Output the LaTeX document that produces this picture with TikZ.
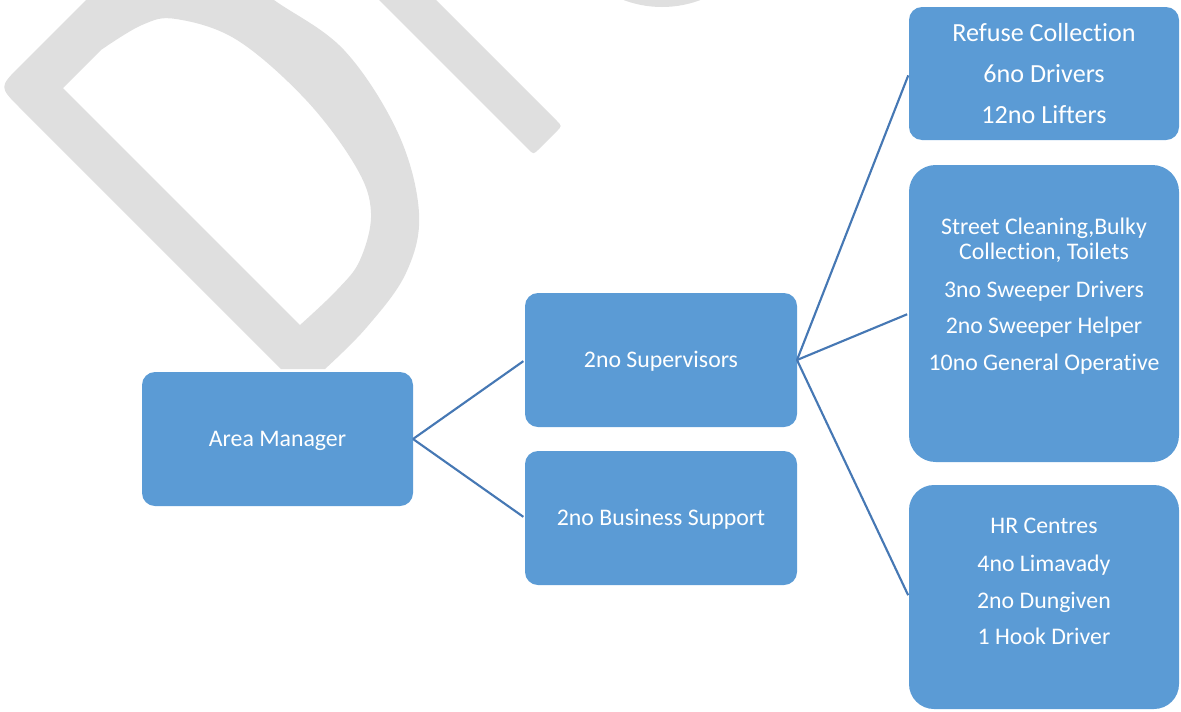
\documentclass[tikz,border=0pt]{standalone}
\usepackage{fontspec}
\setmainfont{Carlito}[Ligatures={NoCommon,NoContextual,NoRare}]
\definecolor{boxblue}{HTML}{5B9BD5}
\definecolor{linkblue}{HTML}{4678B4}
\definecolor{markgray}{HTML}{DFDFDF}
\newcommand{\boxfont}{\fontsize{17.85pt}{21pt}\selectfont}
\newcommand{\bigboxfont}{\fontsize{19.6pt}{23pt}\selectfont}
\begin{document}
\begin{tikzpicture}[x=0.75pt,y=-0.75pt,
  orgbox/.style={rectangle, rounded corners=9.75pt, fill=boxblue, inner sep=0pt,
    outer sep=0pt, minimum width=204pt, minimum height=100.5pt, text=white,
    font=\boxfont, text height=15pt, text depth=4.5pt},
  tallbox/.style={orgbox, minimum width=202.5pt},
  boxline/.style={text=white, font=\boxfont, anchor=base, inner sep=0pt},
  bigline/.style={boxline, font=\bigboxfont},
  link/.style={draw=linkblue, line width=1.6pt, shorten >=1.5pt}]
\useasboundingbox (0,0) rectangle (1181,711);

% faint lettering in the background
\begin{scope}
  \clip (0,0) rectangle (1181,711);
  \fill[markgray, even odd rule]
    (116,-30) -- (20,66) .. controls (-1,87) .. (20,108) -- (281,369) -- (325,369)
    -- plot[smooth, tension=0.6] coordinates {(325,369) (367,327) (406,273) (419,213) (398,133) (344,50) (274,0) (235,-30)}
    -- cycle
    (63,88) -- (300,325)
    -- plot[smooth, tension=0.6] coordinates {(300,325) (337,290) (360,260) (371,213) (356,167) (306,100) (237,40) (176,19) (142,25) (101,50)}
    -- cycle;
  \fill[markgray]
    (349,-30) -- (528,149) .. controls (533.5,154.5) .. (539,149)
    -- (556.5,131.5) .. controls (562,126) .. (556.5,120.5) -- (406,-30) -- cycle;
  \fill[markgray] (662,-102) circle[radius=81.75pt];
\end{scope}

% boxes
\node[orgbox, minimum width=203.25pt] (am) at (277.5,439) {Area Manager};
\node[orgbox] (sup) at (661,360) {2no Supervisors};
\node[orgbox] (bs) at (661,518) {2no Business Support};
\node[tallbox, minimum height=99.75pt] (refuse) at (1044,73.5) {};
\node[tallbox, minimum height=222.75pt, rounded corners=20pt] (street) at (1044,313.5) {};
\node[tallbox, minimum height=168pt, rounded corners=18.75pt] (hr) at (1044,597) {};

% box texts
\node[bigline] (rc1) at (1044,41) {Refuse Collection};
\node[bigline] (rc2) at (1044,82) {6no Drivers};
\node[bigline] (rc3) at (1044,123) {12no Lifters};

\node[boxline] (sc1) at (1044,234) {Street Cleaning,Bulky};
\node[boxline] (sc2) at (1044,259) {Collection, Toilets};
\node[boxline] (sc3) at (1044,297) {3no Sweeper Drivers};
\node[boxline] (sc4) at (1044,333) {2no Sweeper Helper};
\node[boxline] (sc5) at (1044,370) {10no General Operative};

\node[boxline] (hr1) at (1044,533) {HR Centres};
\node[boxline] (hr2) at (1044,571) {4no Limavady};
\node[boxline] (hr3) at (1044,608) {2no Dungiven};
\node[boxline] (hr4) at (1044,644) {1 Hook Driver};

% connectors
\draw[link] (am.east) -- (sup.west);
\draw[link] (am.east) -- (bs.west);
\draw[link] (sup.east) -- (refuse.west);
\draw[link] (sup.east) -- (street.west);
\draw[link] (sup.east) -- (hr.west);
\end{tikzpicture}
\end{document}
